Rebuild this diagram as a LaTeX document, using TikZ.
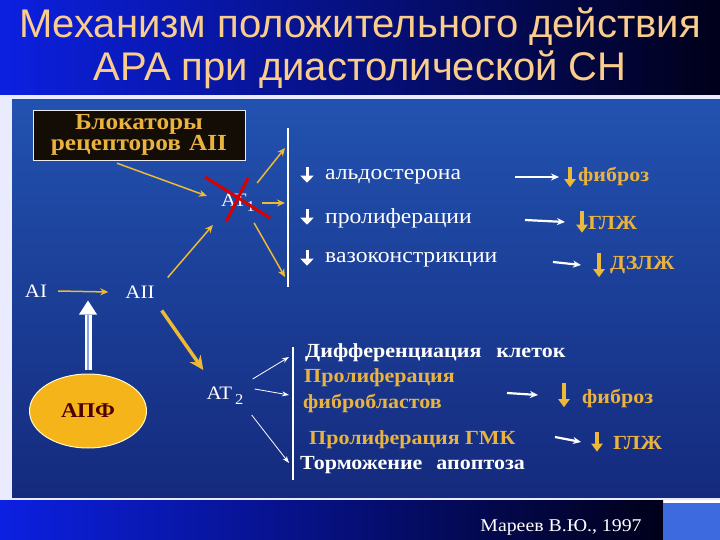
\documentclass[tikz,border=0pt]{standalone}
\usepackage{fontspec}
\setmainfont[FakeStretch=1.1]{Liberation Serif}
\newfontfamily\titlefont{Liberation Sans}
\usetikzlibrary{arrows.meta,shapes.geometric}

\definecolor{titleblue}{RGB}{12,32,225}
\definecolor{titledark}{RGB}{0,0,25}
\definecolor{titletext}{RGB}{250,205,140}
\definecolor{paneltop}{RGB}{34,82,176}
\definecolor{panelbot}{RGB}{20,42,125}
\definecolor{ayellow}{RGB}{238,185,55}
\definecolor{otext}{RGB}{234,178,62}
\definecolor{apfcol}{RGB}{245,180,25}
\definecolor{squareblue}{RGB}{62,106,224}
\definecolor{shaftblue}{RGB}{140,165,225}

\tikzstyle{title}=[text=titletext,font=\titlefont\fontsize{40}{42}\selectfont,inner sep=0pt]
\tikzstyle{agent}=[text=white,font=\fontsize{19}{20}\selectfont,inner sep=1pt]
\tikzstyle{wtext}=[text=white,font=\fontsize{21.5}{22}\selectfont,anchor=west,inner sep=0pt]
\tikzstyle{btext}=[wtext,font=\bfseries\fontsize{20}{22}\selectfont]
\tikzstyle{otext}=[btext,text=otext]
\tikzstyle{down}=[inner sep=0pt,minimum width=0pt]
\tikzstyle{wdown}=[draw=white,line width=3pt,-{Triangle[length=7pt,width=13pt]}]
\tikzstyle{ydown}=[draw=ayellow,line width=3.5pt,-{Triangle[length=8pt,width=11pt]}]
\tikzstyle{yarrow}=[draw=ayellow,line width=1.5pt,-{Stealth[length=8pt,width=7pt]}]
\tikzstyle{warrow}=[draw=white,line width=2.2pt,-{Stealth[length=8pt,width=7pt]}]
\tikzstyle{thinarrow}=[draw=white,line width=0.8pt,-{Stealth[length=7pt,width=5pt]}]
\tikzstyle{wbar}=[draw=white,line width=1.6pt]
\newcommand{\lowsub}[1]{\raisebox{-5pt}{\fontsize{15}{15}\selectfont #1}}

\begin{document}
\begin{tikzpicture}[x=1pt,y=-1pt]
    \useasboundingbox (0,0) rectangle (720,540);
    % First the slide background
    \fill[left color=titleblue,right color=titledark] (0,0) rectangle (720,95);
    \fill[white!92!blue] (0,95) rectangle (720,500);
    \fill[top color=paneltop,bottom color=panelbot] (12,100) rectangle (720,497);
    \fill[left color=titleblue,right color=titledark] (0,500) rectangle (663,540);
    \fill[squareblue] (663,503) rectangle (720,540);
    \node[title] (t1) at (360,27) {Механизм положительного действия};
    \node[title] (t2) at (360,70) {АРА при диастолической СН};
    \node[text=white,font=\fontsize{18}{20}\selectfont,inner sep=0pt] (src) at (561,527) {Мареев В.Ю., 1997};

    % Then the nodes of the scheme
    \node[draw=white!85!gray,fill=black!90!brown,text=otext,font=\bfseries\fontsize{23}{21}\selectfont,
          align=center,minimum width=212pt,minimum height=50pt,inner sep=2pt] (arb) at (139,135)
          {Блокаторы\\рецепторов\hspace{8pt}AII};
    \node[agent] (at1) at (238,203) {AT\lowsub{1}};
    \node[agent] (aI) at (36,291) {AI};
    \node[agent] (aII) at (140,292) {AII};
    \node[agent] (at2) at (225,396) {AT\,\lowsub{2}};
    \node[ellipse,draw=white!80!yellow,line width=1pt,fill=apfcol,text=black!70!red,
          font=\bfseries\fontsize{21}{22}\selectfont,minimum width=117pt,minimum height=74pt] (apf) at (88,411) {АПФ};

    % Effects of AT1
    \foreach \pos/\name/\txt in {{(325,177)/r1/альдостерона}, {(325,218)/r2/пролиферации}, {(325,260)/r3/вазоконстрикции}}
        \node[wtext] (\name) at \pos {\txt};
    \foreach \pos/\name in {{(307,175)/a1}, {(307,217)/a2}, {(307,258)/a3}}
        \node[down,minimum height=15pt] (\name) at \pos {};
    \foreach \pos/\name/\len in {{(570,177)/d1/20}, {(582,222)/d2/21}, {(599,265)/d3/24}, {(564,395)/d4/24}, {(597,442)/d5/19}}
        \node[down,minimum height=\len pt] (\name) at \pos {};
    \node[otext] (f1) at (578,176) {фиброз};
    \node[otext] (f2) at (588,223) {ГЛЖ};
    \node[otext] (f3) at (610,265) {ДЗЛЖ};
    \coordinate (w1) at (515,177);
    \coordinate (w2) at (525,220);
    \coordinate (w3) at (553,262);

    % Effects of AT2
    \node[btext] (s1) at (305,353) {Дифференциация\hspace{15pt}клеток};
    \node[otext] (s2) at (304,378) {Пролиферация};
    \node[otext] (s3) at (303,403) {фибробластов};
    \node[otext] (s4) at (309,440) {Пролиферация ГМК};
    \node[btext] (s5) at (300,465) {Торможение\hspace{14pt}апоптоза};
    \node[otext] (f4) at (582,398) {фиброз};
    \node[otext] (f5) at (613,443) {ГЛЖ};
    \coordinate (w4) at (507,393);
    \coordinate (w5) at (555,437);

    % Bars and arrow ends
    \coordinate (b1) at (288,128); \coordinate (b2) at (288,287);
    \coordinate (b3) at (293,347); \coordinate (b4) at (293,480);
    \path[wbar] (b1) -- (b2);
    \path[wbar] (b3) -- (b4);
    \coordinate (e1) at (285,148); \coordinate (e2) at (285,203); \coordinate (e3) at (285,277);
    \coordinate (e4) at (289,357); \coordinate (e5) at (289,395); \coordinate (e6) at (289,463);

    % Connect the nodes
    \path[yarrow] ([shift={(-22,3)}]arb.south) -- ([shift={(-13,-7)}]at1.west);
    \path[yarrow] ([shift={(10,0)}]aI.east) -- ([shift={(-16,0)}]aII.west);
    \path[yarrow] ([shift={(12,-7)}]aII.north east) -- ([shift={(-7,12)}]at1.south west);
    \path[yarrow,line width=3.5pt,-{Stealth[length=14pt,width=13pt]}] ([shift={(6,11)}]aII.south east) -- ([shift={(-2,-16)}]at2.north west);
    \path[yarrow] ([shift={(1,-10)}]at1.north east) -- (e1);
    \path[yarrow] ([shift={(6,0)}]at1.east) -- (e2);
    \path[yarrow] ([shift={(-2,10)}]at1.south east) -- (e3);
    \foreach \dx/\dy/\dest in {8/-17/e4, 10/-7/e5, 7/19/e6}
        \path[thinarrow] ([shift={(\dx,\dy)}]at2.east) -- (\dest);
    \foreach \source/\dest/\gap in {w1/d1/11, w2/d2/17, w3/d3/18, w4/d4/26, w5/d5/16}
        \path[warrow] (\source) -- ([shift={(-\gap,0)}]\dest.center);
    \foreach \name in {a1,a2,a3}
        \path[wdown] (\name.north) -- (\name.south);
    \foreach \name in {d1,d2,d3,d4,d5}
        \path[ydown] (\name.north) -- (\name.south);

    % Double arrow from APF
    \path[draw=white,line width=7pt] ([shift={(0,-4)}]apf.north) -- ([shift={(0,-59)}]apf.north);
    \path[draw=shaftblue,line width=2.6pt] ([shift={(0,-4)}]apf.north) -- ([shift={(0,-59)}]apf.north);
    \fill[white] ([shift={(-9,-59)}]apf.north) -- ([shift={(9,-59)}]apf.north) -- ([shift={(0,-73)}]apf.north) -- cycle;

    % Blocked receptor
    \draw[red!85!black,line width=3pt] ([shift={(-33,-26)}]at1.center) -- ([shift={(32,15)}]at1.center);
    \draw[red!85!black,line width=3pt] ([shift={(10,-25)}]at1.center) -- ([shift={(-12,19)}]at1.center);
\end{tikzpicture}
\end{document}
